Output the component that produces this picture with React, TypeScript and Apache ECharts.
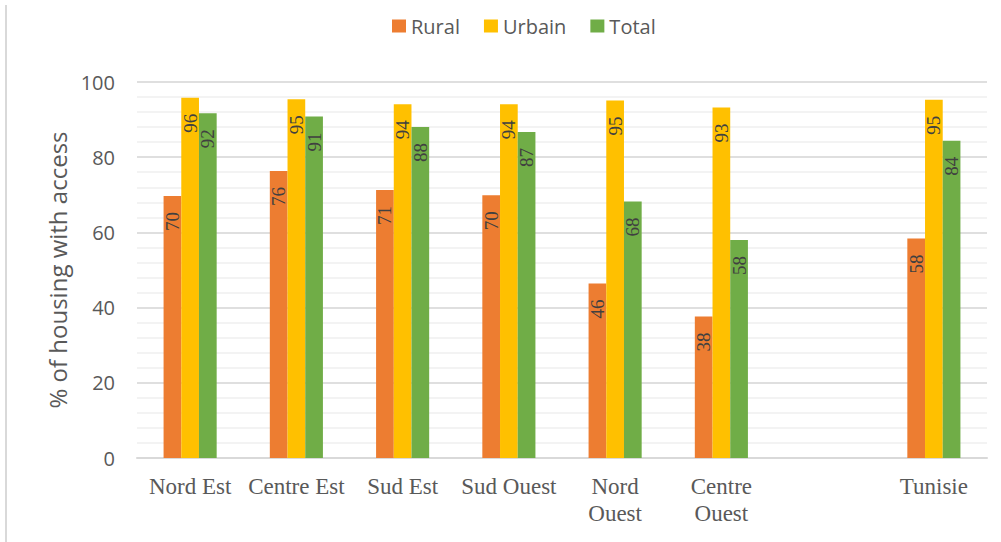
import React, { useEffect, useRef } from "react";
import * as echarts from "echarts";

const categories = ["Nord Est", "Centre Est", "Sud Est", "Sud Ouest", "Nord\nOuest", "Centre\nOuest", "", "Tunisie"];
const seriesNames = ["Rural", "Urbain", "Total"];
const rural = [69.7, 76.3, 71.3, 69.9, 46.4, 37.6, null, 58.4];
const urbain = [95.8, 95.4, 94.1, 94.1, 95.1, 93.2, null, 95.3];
const total = [91.7, 90.8, 88.0, 86.7, 68.2, 58.0, null, 84.4];
const colors = ["#ED7D31", "#FFC000", "#70AD47"];
const yTicks = { min: 0, max: 100, interval: 20 };
const yAxisName = "% of housing with access";

export default function App() {
  const ref = useRef<HTMLDivElement>(null);
  useEffect(() => {
    if (!ref.current) return;
    const chart = echarts.init(ref.current, null, { renderer: "svg" });
    const sans = "'Open Sans', sans-serif";
    const serif = "'Liberation Serif', serif";
    const mk = (name: string, data: (number | null)[], color: string) => ({
      name,
      type: "bar",
      data,
      barWidth: 17.7,
      barGap: "0%",
      itemStyle: { color },
      label: {
        show: true,
        position: "insideTop",
        distance: 16,
        rotate: 90,
        align: "right",
        verticalAlign: "middle",
        fontFamily: serif,
        fontSize: 19,
        color: "#404040",
        formatter: (p: any) => String(Math.round(p.value)),
      },
    });
    chart.setOption({
      animation: false,
      backgroundColor: "#ffffff",
      grid: { left: 137, right: 14, top: 82, bottom: 84 },
      legend: {
        data: seriesNames,
        left: 387,
        top: 11,
        icon: "rect",
        itemWidth: 14,
        itemHeight: 13,
        itemGap: 24,
        textStyle: { fontFamily: sans, fontSize: 20, color: "#595959" },
      },
      xAxis: {
        type: "category",
        data: categories,
        axisLine: { show: true, lineStyle: { color: "#d9d9d9", width: 2 } },
        axisTick: { show: false },
        axisLabel: {
          interval: 0,
          margin: 15,
          fontFamily: serif,
          fontSize: 23,
          lineHeight: 27,
          color: "#595959",
        },
      },
      yAxis: {
        type: "value",
        min: yTicks.min,
        max: yTicks.max,
        interval: yTicks.interval,
        name: yAxisName,
        nameLocation: "middle",
        nameRotate: 90,
        nameGap: 64,
        nameTextStyle: { fontFamily: sans, fontSize: 24, color: "#595959" },
        axisLine: { show: false },
        axisTick: { show: false },
        axisLabel: { margin: 22, fontFamily: sans, fontSize: 20, color: "#595959" },
        splitLine: { show: true, lineStyle: { color: "#d4d4d4", width: 1.5 } },
        minorTick: { show: false, splitNumber: 5 },
        minorSplitLine: { show: true, lineStyle: { color: "#efefef", width: 1.5 } },
      },
      graphic: [
        {
          type: "line",
          shape: { x1: 6, y1: 5, x2: 6, y2: 542 },
          style: { stroke: "#d9d9d9", lineWidth: 2 },
        },
      ],
      series: [mk(seriesNames[0], rural, colors[0]), mk(seriesNames[1], urbain, colors[1]), mk(seriesNames[2], total, colors[2])],
    });
    return () => chart.dispose();
  }, []);
  return <div ref={ref} style={{ position: "absolute", left: 0, top: 0, width: 1001, height: 542 }} />;
}
